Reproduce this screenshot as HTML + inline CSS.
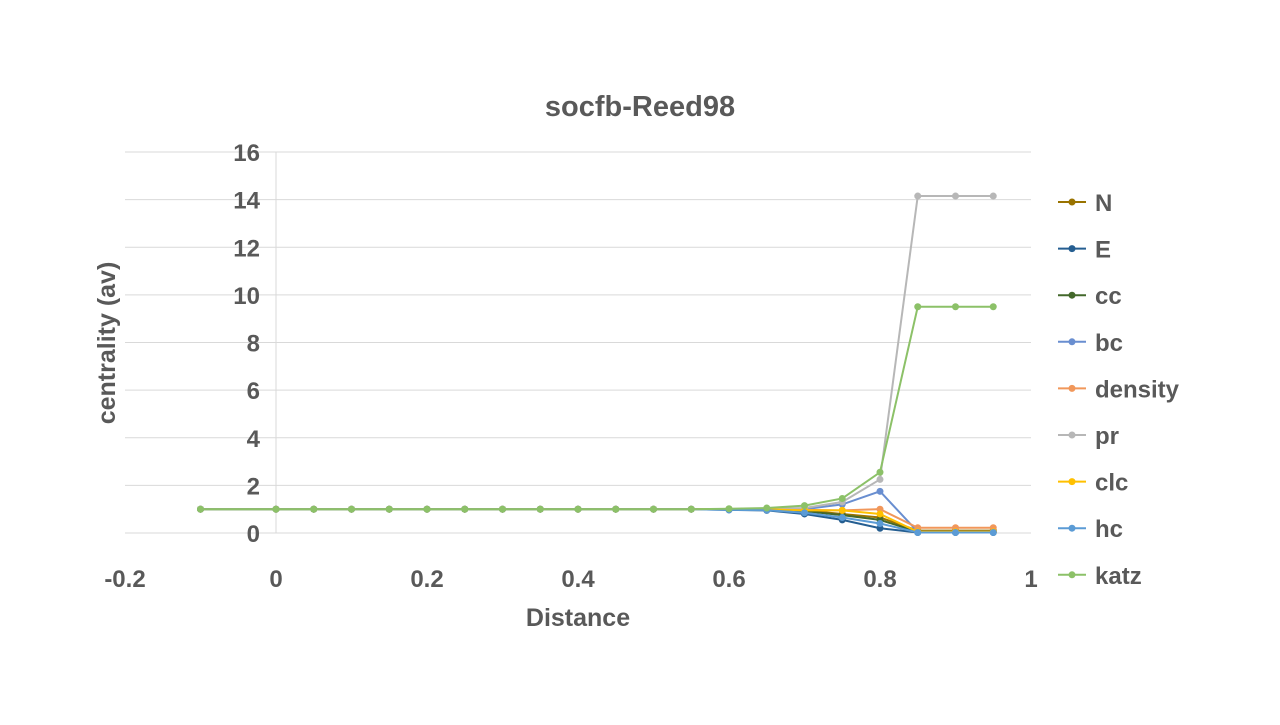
<!DOCTYPE html>
<html><head><meta charset="utf-8"><style>
body{margin:0;background:#fff;}
svg text{font-family:"Liberation Sans",sans-serif;font-weight:bold;fill:#595959;}
</style></head><body>
<svg id="c" width="1280" height="720">
<text x="640" y="116" font-size="29" text-anchor="middle">socfb-Reed98</text>
<text x="578" y="626" font-size="25" text-anchor="middle">Distance</text>
<text transform="translate(115,343) rotate(-90)" font-size="25" text-anchor="middle">centrality (av)</text>
<g id="grid"></g><g id="series"></g><g id="legend"></g>
</svg>
<script>
const xs=[-0.1,0,0.05,0.1,0.15,0.2,0.25,0.3,0.35,0.4,0.45,0.5,0.55,0.6,0.65,0.7,0.75,0.8,0.85,0.9,0.95];
const names=["N","E","cc","bc","density","pr","clc","hc","katz"];
const colors=["#997300","#255e91","#43682b","#698ed0","#f1975a","#b7b7b7","#ffc000","#5b9bd5","#8cc168"];
const base=[1,1,1,1,1,1,1,1,1,1,1,1,1];
const sN=[...base,1.0,0.98,0.95,0.8,0.65,0.1,0.1,0.1];
const sE=[...base,0.97,0.95,0.8,0.55,0.2,0.02,0.02,0.02];
const sCC=[...base,1.0,0.98,0.92,0.75,0.55,0.05,0.05,0.05];
const sBC=[...base,1.0,1.0,1.0,1.2,1.75,0.05,0.05,0.05];
const sDen=[...base,1.0,1.0,0.97,0.95,1.0,0.22,0.22,0.22];
const sPR=[...base,1.0,1.02,1.05,1.3,2.25,14.15,14.15,14.15];
const sCLC=[...base,1.0,1.0,0.95,0.95,0.8,0.05,0.05,0.05];
const sHC=[...base,0.97,0.96,0.85,0.65,0.4,0.02,0.02,0.02];
const sKatz=[...base,1.02,1.05,1.15,1.45,2.55,9.5,9.5,9.5];
const series=[sN,sE,sCC,sBC,sDen,sPR,sCLC,sHC,sKatz];
const xTicks=[-0.2,0,0.2,0.4,0.6,0.8,1];
const xLabels=["-0.2","0","0.2","0.4","0.6","0.8","1"];
const yTicks=[0,2,4,6,8,10,12,14,16];
const NS="http://www.w3.org/2000/svg";
const X=v=>125+(v+0.2)/1.2*906;
const Y=v=>533-v/16*381;
function mk(t,a,p){const e=document.createElementNS(NS,t);for(const k in a)e.setAttribute(k,a[k]);p.appendChild(e);return e;}
const g=document.getElementById('grid');
yTicks.forEach(v=>{
 const l=mk('line',{x1:125,x2:1031,y1:Y(v),y2:Y(v),stroke:'#d9d9d9','stroke-width':1},g);
 
 
 const t=mk('text',{x:260,y:Y(v)+9,'font-size':24,'text-anchor':'end'},g);t.textContent=v;
 
 
});
const ax=mk('line',{x1:X(0),x2:X(0),y1:Y(16),y2:Y(0),stroke:'#d9d9d9'},g);


xTicks.forEach((v,i)=>{
 const t=mk('text',{x:X(v),y:587,'font-size':24,'text-anchor':'middle'},g);t.textContent=xLabels[i];
 
 
});
const sg=document.getElementById('series'),lg=document.getElementById('legend');
series.forEach((s,k)=>{
 const grp=mk('g',{},sg);
 
 
 mk('polyline',{points:s.map((v,i)=>X(xs[i])+','+Y(v)).join(' '),fill:'none',stroke:colors[k],'stroke-width':2},grp);
 s.forEach((v,i)=>{const c=mk('circle',{cx:X(xs[i]),cy:Y(v),r:3.5,fill:colors[k]},grp);
  
  });
 const ly=202+k*46.6;
 const le=mk('g',{},lg);
 
 
 mk('line',{x1:1058,x2:1086,y1:ly,y2:ly,stroke:colors[k],'stroke-width':2},le);
 mk('circle',{cx:1072,cy:ly,r:3.5,fill:colors[k]},le);
 const t=mk('text',{x:1095,y:ly+9,'font-size':24},le);t.textContent=names[k];
});
</script>
</body></html>
